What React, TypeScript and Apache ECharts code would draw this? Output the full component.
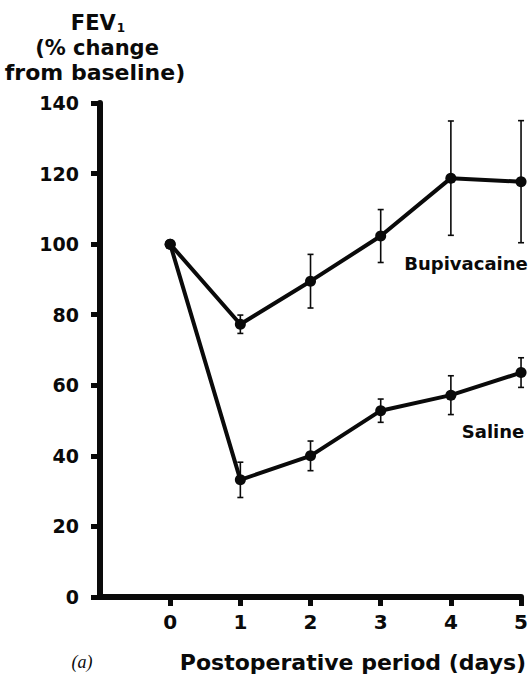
import React, { useEffect, useRef } from "react";
import * as echarts from "echarts";

const days = [0, 1, 2, 3, 4, 5];
const bupivacaine = [100, 77.3, 89.5, 102.3, 118.7, 117.7];
const bupivacaineErr = [0, 2.6, 7.6, 7.5, 16.2, 17.3];
const saline = [100, 33.2, 40, 52.8, 57.2, 63.6];
const salineErr = [0, 5, 4.2, 3.3, 5.5, 4.2];
const yTicks = [0, 20, 40, 60, 80, 100, 120, 140];
const xTicks = [0, 1, 2, 3, 4, 5];

const FONT = "'DejaVu Sans', 'Open Sans', sans-serif";
const INK = "#0a0a0a";

function errData(vals: number[], errs: number[]) {
  return days
    .map((d, i) => [d, vals[i] - errs[i], vals[i] + errs[i]])
    .filter((_, i) => errs[i] > 0);
}

export default function App() {
  const ref = useRef<HTMLDivElement>(null);
  useEffect(() => {
    if (!ref.current) return;
    const chart = echarts.init(ref.current, null, { renderer: "svg" });
    const renderErr = (params: any, api: any) => {
      const x = api.value(0);
      const lo = api.coord([x, api.value(1)]);
      const hi = api.coord([x, api.value(2)]);
      const cap = 3;
      const style = { stroke: INK, lineWidth: 1.6 };
      return {
        type: "group",
        children: [
          { type: "line", shape: { x1: lo[0], y1: lo[1], x2: hi[0], y2: hi[1] }, style },
          { type: "line", shape: { x1: hi[0] - cap, y1: hi[1], x2: hi[0] + cap, y2: hi[1] }, style },
          { type: "line", shape: { x1: lo[0] - cap, y1: lo[1], x2: lo[0] + cap, y2: lo[1] }, style },
        ],
      };
    };
    const lineSeries = (name: string, vals: number[]) => ({
      name,
      type: "line",
      data: days.map((d, i) => [d, vals[i]]),
      symbol: "circle",
      symbolSize: 11,
      lineStyle: { color: INK, width: 4 },
      itemStyle: { color: INK },
      z: 3,
    });
    chart.setOption({
      animation: false,
      backgroundColor: "#ffffff",
      grid: { left: 100, right: 9, top: 103, bottom: 78, containLabel: false },
      xAxis: {
        type: "value",
        min: -1,
        max: 5,
        interval: 1,
        axisLine: { onZero: false, lineStyle: { color: INK, width: 6 } },
        axisTick: {
          customValues: xTicks,
          length: 9,
          lineStyle: { color: INK, width: 5 },
        },
        axisLabel: {
          customValues: xTicks,
          margin: 15,
          color: INK,
          fontFamily: FONT,
          fontWeight: "bold",
          fontSize: 20,
        },
        splitLine: { show: false },
      },
      yAxis: {
        type: "value",
        min: 0,
        max: 140,
        interval: 20,
        axisLine: { show: true, onZero: false, lineStyle: { color: INK, width: 6 } },
        axisTick: {
          show: true,
          customValues: yTicks,
          length: 9,
          lineStyle: { color: INK, width: 5 },
        },
        axisLabel: {
          customValues: yTicks,
          margin: 21,
          color: INK,
          fontFamily: FONT,
          fontWeight: "bold",
          fontSize: 19,
        },
        splitLine: { show: false },
      },
      series: [
        lineSeries("Bupivacaine", bupivacaine),
        lineSeries("Saline", saline),
        {
          type: "custom",
          renderItem: renderErr,
          data: errData(bupivacaine, bupivacaineErr),
          z: 2,
        },
        {
          type: "custom",
          renderItem: renderErr,
          data: errData(saline, salineErr),
          z: 2,
        },
      ],
      graphic: [
        {
          type: "text",
          x: 98,
          y: 23,
          style: {
            text: "FEV{sub|1}",
            fill: INK,
            font: `bold 21px ${FONT}`,
            align: "center",
            verticalAlign: "middle",
            rich: {
              sub: { fontSize: 12, fontWeight: "bold", fontFamily: FONT, fill: INK, verticalAlign: "bottom", padding: [7, 0, 0, 1] },
            },
          },
        },
        {
          type: "text",
          x: 97,
          y: 48,
          style: { text: "(% change", fill: INK, font: `bold 21px ${FONT}`, align: "center", verticalAlign: "middle" },
        },
        {
          type: "text",
          x: 95,
          y: 72,
          style: { text: "from baseline)", fill: INK, font: `bold 22px ${FONT}`, align: "center", verticalAlign: "middle" },
        },
        {
          type: "text",
          x: 466,
          y: 263,
          style: { text: "Bupivacaine", fill: INK, font: `bold 18px ${FONT}`, align: "center", verticalAlign: "middle" },
        },
        {
          type: "text",
          x: 493,
          y: 431,
          style: { text: "Saline", fill: INK, font: `bold 18px ${FONT}`, align: "center", verticalAlign: "middle" },
        },
        {
          type: "text",
          x: 353,
          y: 662,
          style: { text: "Postoperative period (days)", fill: INK, font: `bold 22px ${FONT}`, align: "center", verticalAlign: "middle" },
        },
        {
          type: "text",
          x: 82,
          y: 662,
          style: { text: "(a)", fill: INK, font: `italic 18px 'Liberation Serif', 'DejaVu Serif', serif`, align: "center", verticalAlign: "middle" },
        },
      ],
    });
    return () => chart.dispose();
  }, []);
  return <div ref={ref} style={{ position: "fixed", left: 0, top: 0, width: 531, height: 675 }} />;
}
